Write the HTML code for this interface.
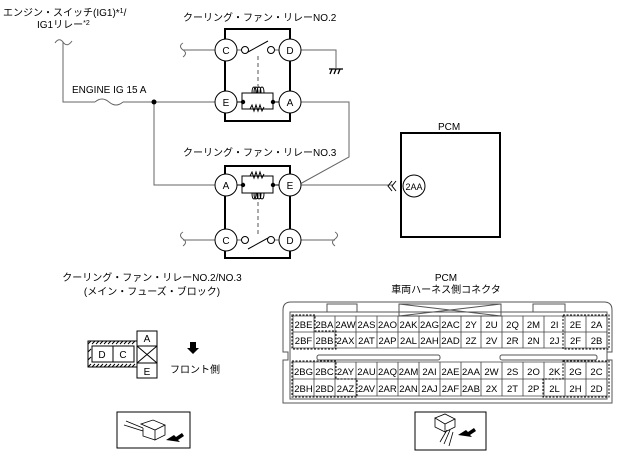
<!DOCTYPE html>
<html><head><meta charset="utf-8"><style>
html,body{margin:0;padding:0;background:#fff;}
svg{display:block;font-family:"Liberation Sans","Noto Sans CJK JP",sans-serif;}
</style></head><body>
<svg width="621" height="451" viewBox="0 0 621 451" xmlns="http://www.w3.org/2000/svg">
<g fill="#000" font-size="10">
<text x="3" y="16">エンジン・スイッチ(IG1)*<tspan font-size="7" dy="-3">1</tspan><tspan dy="3">/</tspan></text>
<text x="37" y="28">IG1リレー<tspan font-size="7" dy="-3">*2</tspan></text>
<text x="183" y="21">クーリング・ファン・リレーNO.2</text>
<text x="183" y="156">クーリング・ファン・リレーNO.3</text>
<text x="72" y="93">ENGINE IG 15 A</text>
<text x="438" y="130">PCM</text>
</g>
<g fill="none" stroke="#666" stroke-width="1">
<path d="M55 43 Q59 37 63 42 Q67 48 72 41"/>
<path d="M63 42 V102 H95 M123 102 H224"/>
<path d="M95 102 q7 -6 14 0 q7 6 14 0" />
<path d="M154 102 V185 H215"/>
<path d="M183 43 q-5 3 0 7 q5 3 0 7 M183 50 H215"/>
<path d="M301 50 H336 V68"/>
<path d="M301 102 H349 V157 L300 184"/>
<path d="M300 185 H393"/>
<path d="M183 232 q-5 3 0 7 q5 3 0 7 M183 240 H215"/>
<path d="M301 240 H335 M335 232 q5 3 0 7 q-5 3 0 7"/>
<path d="M235 50 H242 M274 50 H279 M235 240 H242 M274 240 H279"/>
</g>
<g stroke="#000" stroke-width="1.3"><line x1="329" y1="69" x2="343" y2="69"/><line x1="330" y1="74" x2="332" y2="69"/><line x1="334" y1="74" x2="336" y2="69"/><line x1="338" y1="74" x2="340" y2="69"/></g>
<g fill="none" stroke="#000" stroke-width="2">
<path d="M225 40 V29 H290 V40 M225 60 V91 M290 60 V91 M225 113 V121 H290 V113"/>
<path d="M225 174 V166 H290 V174 M225 196 V229 M290 196 V229 M225 251 V258 H290 V251"/>
<rect x="401" y="133" width="99" height="104"/>
</g>
<g fill="#fff" stroke="#000" stroke-width="1">
<circle cx="226" cy="50" r="11"/><circle cx="290" cy="50" r="11"/>
<circle cx="226" cy="102" r="11"/><circle cx="290" cy="102" r="11"/>
<circle cx="226" cy="185" r="11"/><circle cx="290" cy="185" r="11"/>
<circle cx="226" cy="240" r="11"/><circle cx="290" cy="240" r="11"/>
<circle cx="245" cy="50" r="3.5"/><circle cx="271" cy="50" r="3.5"/>
<circle cx="245" cy="240" r="3.5"/><circle cx="271" cy="240" r="3.5"/>
<circle cx="414" cy="186" r="11"/>
</g>
<g font-size="10" text-anchor="middle" fill="#000">
<text x="226" y="54">C</text><text x="290" y="54">D</text><text x="226" y="106">E</text><text x="290" y="106">A</text>
<text x="226" y="189">A</text><text x="290" y="189">E</text><text x="226" y="244">C</text><text x="290" y="244">D</text>
<text x="414" y="190" font-size="9">2AA</text>
</g>
<g fill="none" stroke="#000" stroke-width="1">
<line x1="248" y1="52" x2="268" y2="41"/>
<line x1="248" y1="249" x2="268" y2="238"/>
<line x1="258" y1="56" x2="258" y2="93" stroke-dasharray="4,3" stroke="#555"/>
<line x1="258" y1="195" x2="258" y2="236" stroke-dasharray="4,3" stroke="#555"/>
<path d="M237 102 H242 V93 H273 V109 H242 V102 M273 102 H279"/>
<path d="M250 109 l2 -4 l2 6 l2 -6 l2 6 l2 -6 l2 6 l2 -4"/>
<path d="M252 93 q0 -6 2 -6 q2 0 2 6 M254 93 q0 -6 2 -6 q2 0 2 6 M257 93 q0 -6 2 -6 q2 0 2 6 M260 93 q0 -6 2 -6 q2 0 2 6"/>
<path d="M237 185 H242 V176 H273 V193 H242 V185 M273 185 H279"/>
<path d="M250 176 l2 -4 l2 6 l2 -6 l2 6 l2 -6 l2 6 l2 -4"/>
<path d="M252 193 q0 6 2 6 q2 0 2 -6 M254 193 q0 6 2 6 q2 0 2 -6 M257 193 q0 6 2 6 q2 0 2 -6 M260 193 q0 6 2 6 q2 0 2 -6"/>
<path d="M392 181 l-4 5 l4 5 M396 181 l-4 5 l4 5"/>
</g>
<g fill="#000"><circle cx="154" cy="102" r="2.5"/><circle cx="243" cy="102" r="2.2"/><circle cx="273" cy="102" r="2.2"/><circle cx="243" cy="185" r="2.2"/><circle cx="273" cy="185" r="2.2"/></g>

<!-- left connector -->
<g font-size="10" fill="#000" text-anchor="middle">
<text x="152" y="281">クーリング・ファン・リレーNO.2/NO.3</text>
<text x="152" y="295">(メイン・フューズ・ブロック)</text>
<text x="195" y="373">フロント側</text>
<text x="446" y="281">PCM</text>
<text x="446" y="293">車両ハーネス側コネクタ</text>
</g>
<g fill="none" stroke="#000" stroke-width="1">
<rect x="88" y="341" width="49" height="26"/>
<rect x="92" y="346" width="21" height="16" fill="#fff"/><rect x="113" y="346" width="21" height="16" fill="#fff"/>
<path d="M88 344 l3 -3 M92 344 l3 -3 M96 344 l3 -3 M100 344 l3 -3 M104 344 l3 -3 M108 344 l3 -3 M112 344 l3 -3 M116 344 l3 -3 M120 344 l3 -3 M124 344 l3 -3 M128 344 l3 -3 M132 344 l3 -3 M88 367 l3 -3 M92 367 l3 -3 M96 367 l3 -3 M100 367 l3 -3 M104 367 l3 -3 M108 367 l3 -3 M112 367 l3 -3 M116 367 l3 -3 M120 367 l3 -3 M124 367 l3 -3 M128 367 l3 -3 M132 367 l3 -3 M88 352 l3 -3 M88 360 l3 -3"/>
<rect x="137" y="331" width="20" height="15" fill="#fff"/>
<rect x="137" y="346" width="20" height="17" fill="#fff"/><path d="M137 346 L157 363 M157 346 L137 363"/>
<rect x="137" y="363" width="20" height="15" fill="#fff"/>
<rect x="117" y="412" width="73" height="36"/>
<rect x="415" y="412" width="71" height="38"/>
</g>
<g font-size="10" fill="#000" text-anchor="middle"><text x="102" y="358">D</text><text x="123" y="358">C</text><text x="147" y="342">A</text><text x="147" y="375">E</text></g>
<path d="M190 342 h6 v6 h3 l-6 6 l-6 -6 h3 z" fill="#000"/>
<!-- icons -->
<g fill="none" stroke="#000" stroke-width="0.8">
<path d="M126 421 L143 428 M124 425 L143 431 M141 424 l12 -4 l12 5 l-10 5 z M155 430 v10 l10 -5 v-10 M143 428 v8 l12 4"/>
<path d="M435 418 l10 -4 l10 5 l-10 5 z M435 418 v9 l10 5 v-8 M445 432 l10 -5 v-8 M447 430 l-7 12 M450 430 l-6 14 M453 432 l-4 14"/>
</g>
<path d="M166 440 l8 -5 l2 2 l6 -4 l2 3 l-6 4 l2 2 z" fill="#000"/>
<path d="M458 435 l8 -5 l2 2 l6 -4 l2 3 l-6 4 l2 2 z" fill="#000"/>

<!-- PCM connector -->
<g fill="none" stroke="#555" stroke-width="1">
<path d="M291 302 H604 Q612 302 612 310 V352 H607 V360 H612 V403 H283 V360 H288 V352 H283 V310 Q283 302 291 302 Z"/>
<rect x="290" y="312" width="317" height="87"/>
<path d="M327 312 V304 H357 V312 M533 312 V304 H565 V312"/>
<path d="M399 304 H501 V316 H399 Z M399 304 L501 316 M501 304 L399 316"/>
<rect x="317" y="355" width="123" height="5" rx="2"/>
<rect x="500" y="355" width="97" height="5" rx="2"/>
</g>
<g fill="none" stroke="#444" stroke-width="0.8">
<path d="M293 316 H607 M293 332 H607 M293 348 H607 M293 362 H607 M293 379 H607 M293 396 H607"/>
<path d="M293 316 V348 M314 316 V348 M335 316 V348 M356 316 V348 M377 316 V348 M398 316 V348 M419 316 V348 M440 316 V348 M461 316 V348 M481 316 V348 M502 316 V348 M523 316 V348 M544 316 V348 M565 316 V348 M586 316 V348 M607 316 V348"/>
<path d="M293 362 V396 M314 362 V396 M335 362 V396 M356 362 V396 M377 362 V396 M398 362 V396 M419 362 V396 M440 362 V396 M461 362 V396 M481 362 V396 M502 362 V396 M523 362 V396 M544 362 V396 M565 362 V396 M586 362 V396 M607 362 V396"/>
</g>
<g fill="none" stroke="#000" stroke-width="1" stroke-dasharray="2,1.5">
<path d="M292 315 H315 V331 H336 V349 H292 Z"/>
<path d="M563 315 H609 V349 H563 Z"/>
<path d="M292 361 H336 V379 H357 V397 H292 Z"/>
<path d="M563 361 H609 V397 H543 V379 H563 Z"/>
</g>
<g font-size="9.5" fill="#000" text-anchor="middle">
<text x="303.5" y="328">2BE</text><text x="324.5" y="328">2BA</text><text x="345.5" y="328">2AW</text><text x="366.5" y="328">2AS</text><text x="387.5" y="328">2AO</text><text x="408.5" y="328">2AK</text><text x="429.5" y="328">2AG</text><text x="450.5" y="328">2AC</text><text x="471" y="328">2Y</text><text x="491.5" y="328">2U</text><text x="512.5" y="328">2Q</text><text x="533.5" y="328">2M</text><text x="554.5" y="328">2I</text><text x="575.5" y="328">2E</text><text x="596.5" y="328">2A</text>
<text x="303.5" y="344">2BF</text><text x="324.5" y="344">2BB</text><text x="345.5" y="344">2AX</text><text x="366.5" y="344">2AT</text><text x="387.5" y="344">2AP</text><text x="408.5" y="344">2AL</text><text x="429.5" y="344">2AH</text><text x="450.5" y="344">2AD</text><text x="471" y="344">2Z</text><text x="491.5" y="344">2V</text><text x="512.5" y="344">2R</text><text x="533.5" y="344">2N</text><text x="554.5" y="344">2J</text><text x="575.5" y="344">2F</text><text x="596.5" y="344">2B</text>
<text x="303.5" y="375">2BG</text><text x="324.5" y="375">2BC</text><text x="345.5" y="375">2AY</text><text x="366.5" y="375">2AU</text><text x="387.5" y="375">2AQ</text><text x="408.5" y="375">2AM</text><text x="429.5" y="375">2AI</text><text x="450.5" y="375">2AE</text><text x="471" y="375">2AA</text><text x="491.5" y="375">2W</text><text x="512.5" y="375">2S</text><text x="533.5" y="375">2O</text><text x="554.5" y="375">2K</text><text x="575.5" y="375">2G</text><text x="596.5" y="375">2C</text>
<text x="303.5" y="392">2BH</text><text x="324.5" y="392">2BD</text><text x="345.5" y="392">2AZ</text><text x="366.5" y="392">2AV</text><text x="387.5" y="392">2AR</text><text x="408.5" y="392">2AN</text><text x="429.5" y="392">2AJ</text><text x="450.5" y="392">2AF</text><text x="471" y="392">2AB</text><text x="491.5" y="392">2X</text><text x="512.5" y="392">2T</text><text x="533.5" y="392">2P</text><text x="554.5" y="392">2L</text><text x="575.5" y="392">2H</text><text x="596.5" y="392">2D</text>
</g>
</svg>
</body></html>
